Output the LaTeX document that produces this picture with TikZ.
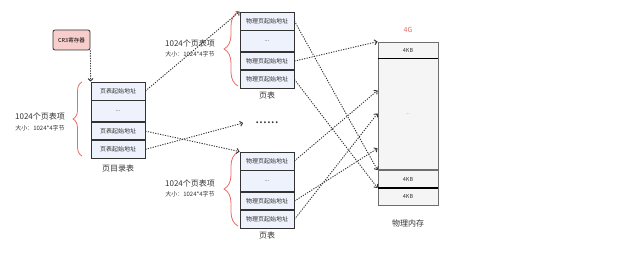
\documentclass[tikz,border=0pt]{standalone}
\usepackage{fontspec}
\setmainfont{Noto Sans CJK SC}
\usepackage{tikz}
\usetikzlibrary{arrows.meta,positioning,decorations.pathreplacing}
\definecolor{ink}{RGB}{51,51,51}
\definecolor{cellblue}{RGB}{238,242,252}
\definecolor{memgray}{RGB}{245,245,245}
\definecolor{memline}{RGB}{110,110,110}
\definecolor{regfill}{RGB}{248,206,204}
\definecolor{bracered}{RGB}{234,107,102}
\tikzset{
  ptr/.style={dash pattern=on 1.2pt off 1.3pt,line width=0.9pt,ink,-{Straight Barb[length=2.5pt,width=5pt]}},
  cell/.style={draw=ink,line width=0.8pt,fill=cellblue,minimum width=54pt,inner sep=0pt,
    font=\fontsize{6}{7}\selectfont,text=ink},
  memcell/.style={draw=memline,line width=0.8pt,fill=memgray,minimum width=60pt,inner sep=0pt,
    font=\fontsize{5.5}{6}\selectfont,text=ink},
  span/.style={draw=bracered,line width=0.8pt,decorate,decoration={brace,amplitude=#1}},
  count/.style={font=\fontsize{8}{9}\selectfont,text=ink,inner sep=0pt},
  size/.style={font=\fontsize{6}{7}\selectfont,text=ink,inner sep=0pt},
  caption/.style={font=\fontsize{8}{9}\selectfont,text=ink,inner sep=0pt}
}

\begin{document}
\begin{tikzpicture}[x=1pt,y=-1pt]
  \fill[white] (0,0) rectangle (620,253);
  \useasboundingbox (0,0) rectangle (620,253);
  % CR3 register
  \node[draw=ink,fill=regfill,rounded corners=2pt,line width=0.8pt,minimum width=37pt,
    minimum height=20pt,inner sep=0pt,font=\fontsize{5.5}{6}\selectfont] (cr3) at (71.5,40) {CR3寄存器};
  % page directory
  \node[cell,minimum height=18pt] (dir1) at (118,91) {页表起始地址};
  \node[cell,minimum height=21pt,below=0pt of dir1] (dir2) {...};
  \node[cell,minimum height=17pt,below=0pt of dir2] (dir3) {页表起始地址};
  \node[cell,minimum height=18pt,below=0pt of dir3] (dir4) {页表起始地址};
  \node[caption,below=6pt of dir4] (dirname) {页目录表};
  \draw[span=9pt] (82,156) -- (82,82);
  \node[count] (dircount) at (40,116) {1024个页表项};
  \node[size] (dirsize) at (40,128) {大小：1024*4字节};
  % page tables
  \foreach \t/\y in {pta/21,ptb/161} {
    \node[cell,minimum height=18pt] (\t1) at (267,\y) {物理页起始地址};
    \node[cell,minimum height=21pt,below=0pt of \t1] (\t2) {...};
    \node[cell,minimum height=17pt,below=0pt of \t2] (\t3) {物理页起始地址};
    \node[cell,minimum height=18pt,below=0pt of \t3] (\t4) {物理页起始地址};
    \node[caption,below=3pt of \t4] (\t name) {页表};
    \draw[span=14pt] (238,\y+65) -- (238,\y-9);
    \node[count] (\t count) at (190,\y+22) {1024个页表项};
    \node[size] (\t size) at (190,\y+33) {大小：1024*4字节};
  }
  \node[font=\fontsize{14}{15}\selectfont,text=ink,inner sep=0pt] (gap) at (267,123) {......};
  % physical memory
  \node[memcell,minimum height=16pt] (mem1) at (408,50) {4KB};
  \node[memcell,minimum height=111pt,below=0pt of mem1,text=ink!50] (mem2) {...};
  \node[memcell,minimum height=17pt,below=0pt of mem2] (mem3) {4KB};
  \node[memcell,minimum height=17pt,below=0pt of mem3] (mem4) {4KB};
  \draw[line width=1.3pt] (mem1.south west) -- (mem1.south east);
  \draw[line width=1.3pt] (mem4.north west) -- (mem4.north east);
  \node[font=\fontsize{7}{8}\selectfont,text=bracered,inner sep=0pt] (top) at (408,30) {4G};
  \node[caption,below=14pt of mem4] (memname) {物理内存};
  \coordinate (hit1) at ([yshift=-32pt]mem2.north west);
  \coordinate (hit2) at ([yshift=-55pt]mem2.north west);
  \coordinate (hit3) at ([yshift=-90pt]mem2.north west);
  % pointers
  \draw[ptr] (cr3.south east) -- (dir1.north west);
  \draw[ptr] (dir1.east) -- (pta1.north west);
  \draw[ptr] (dir3.east) -- (ptb1.north west);
  \draw[ptr] (dir4.east) -- ([xshift=-12pt]gap.west);
  \draw[ptr] (pta1.east) -- (mem3.north west);
  \draw[ptr] (pta3.east) -- (mem1.north west);
  \draw[ptr] (pta4.east) -- (mem4.north west);
  \draw[ptr] (ptb1.east) -- (hit1);
  \draw[ptr] (ptb3.east) -- (hit3);
  \draw[ptr] (ptb4.east) -- (hit2);
\end{tikzpicture}
\end{document}
